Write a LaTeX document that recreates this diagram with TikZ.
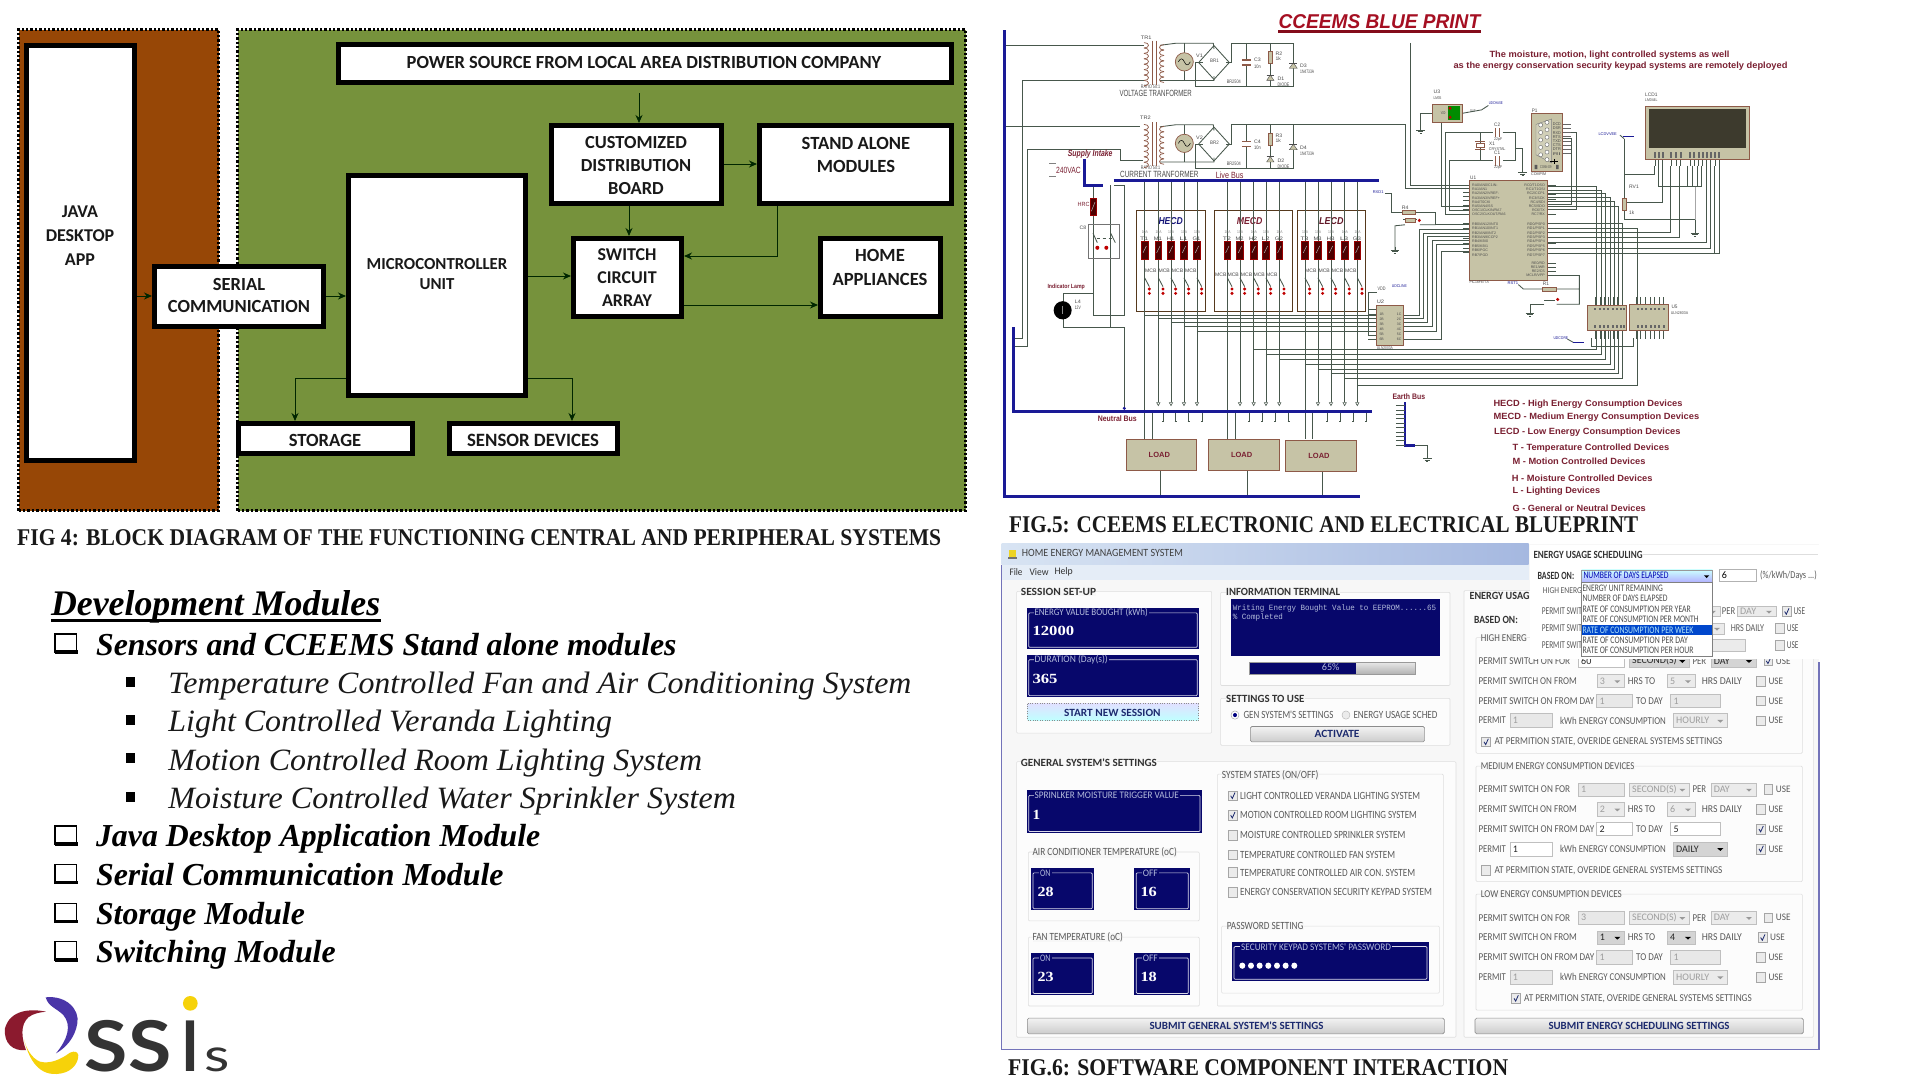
\documentclass[tikz,border=0pt]{standalone}
\usepackage{fontspec}
\usepackage{graphicx}
\usetikzlibrary{arrows.meta,calc}
\setmainfont{Liberation Serif}
\newfontfamily\fCal{Carlito}
\newfontfamily\fAr{Liberation Sans}
\newfontfamily\fMo{Liberation Mono}
\newfontfamily\fSe{Liberation Serif}
\newfontfamily\fLa{Lato}
\definecolor{brownp}{HTML}{974706}
\definecolor{greenp}{HTML}{76923C}
\definecolor{wire}{HTML}{47574C}
\definecolor{busb}{HTML}{1A1A96}
\definecolor{tanc}{HTML}{C6C3A6}
\definecolor{tanb}{HTML}{8E5A48}
\definecolor{cred}{HTML}{7A2032}
\definecolor{ttl}{HTML}{A50F22}
\definecolor{ctxt}{HTML}{4A4A4A}
\definecolor{navyp}{HTML}{07076B}
\definecolor{uibg}{HTML}{F7F7F7}
\definecolor{uigr}{HTML}{5A5A5A}
\definecolor{uigl}{HTML}{DEDEDE}
\definecolor{navt}{HTML}{1C2A6E}
\definecolor{navl}{HTML}{B4BCDC}
\definecolor{logoB}{HTML}{4A35A8}
\definecolor{logoR}{HTML}{8B1A2E}
\definecolor{logoY}{HTML}{F6D20A}
\definecolor{logoD}{HTML}{333333}
\definecolor{barL}{HTML}{D8E4F3}
\definecolor{barR}{HTML}{A5B8E0}
\definecolor{menuB}{HTML}{E5EDF7}
\newcounter{tn}
\def\zs{1}
\newcommand\FC[1]{\fontsize{#1}{#1}\fCal}
\newcommand\FCB[1]{\fontsize{#1}{#1}\fCal\bfseries}
\newcommand\FA[1]{\fontsize{#1}{#1}\fAr}
\newcommand\FAB[1]{\fontsize{#1}{#1}\fAr\bfseries}
\newcommand\FS[1]{\fontsize{#1}{#1}\fSe}
\newcommand\FSB[1]{\fontsize{#1}{#1}\fSe\bfseries}
\newcommand\FM[1]{\fontsize{#1}{#1}\fMo}
% text fitted between x1 and x2 on line y
\newcommand\Tx[6][]{\stepcounter{tn}\node[inner sep=0pt,anchor=west,#1] (t\arabic{tn}) at ({#2},{#4}) {\resizebox{\zs\dimexpr\numexpr(#3)-(#2)\relax pt\relax}{\height}{#5 #6}};}
% text at natural width
\newcommand\Tn[5][]{\stepcounter{tn}\node[inner sep=0pt,anchor=west,#1] (t\arabic{tn}) at ({#2},{#3}) {#4 #5};}
% rectangle node from outer corners
\newcommand\Rct[6][blk]{\node[#1,minimum width={#5-#3-5},minimum height={#6-#4-5}] (#2) at ({(#3+#5)/2},{(#4+#6)/2}) {};}
\newcommand\BL[6]{\node[inner sep=0pt,align=center,font=\fontsize{#5}{#4}\fCal\bfseries\selectfont,text=black!90] (#1) at (#2,#3) {#6};}
\tikzset{
 blk/.style={draw=black,fill=white,line width=5pt,inner sep=0pt},
 panelb/.style={draw=black,fill=brownp,line width=3.4pt,dash pattern=on 2.4pt off 2pt,inner sep=0pt},
 panelg/.style={draw=black,fill=greenp,line width=3.4pt,dash pattern=on 2.4pt off 2pt,inner sep=0pt},
 arr/.style={-{Stealth[length=8pt,width=7pt]},line width=1pt,draw=black!85!green},
 w/.style={draw=wire,line width=.85pt},
 bus/.style={draw=busb,line width=2.8pt},
 chip/.style={fill=tanc,draw=tanb,line width=.9pt},
 dev/.style={draw=tanb!80!black,line width=.7pt},
 pnl/.style={draw=black!55!brown,line width=.7pt},
 zb/.style={shift={(990pt,0pt)},x=0.3333pt,y=-0.338pt},
 zc/.style={shift={(1450pt,0pt)},x=0.3333pt,y=-0.338pt},
 zd/.style={shift={(1000pt,-535pt)},x=0.3333pt,y=-0.3476pt},
 ze/.style={shift={(1450pt,-535pt)},x=0.3333pt,y=-0.3476pt},
 zt/.style={shift={(20pt,-570pt)},x=0.593pt,y=-0.3333pt},
 zl/.style={shift={(0pt,-960pt)},x=0.3333pt,y=-0.3333pt},
 grp/.style={draw=uigl,line width=.6pt,rounded corners=1pt},
 btn/.style={draw=black!45,top color=white!95!black,bottom color=black!20,line width=.6pt,rounded corners=1.5pt},
}
\newcommand\Coil[5]{\foreach \i in {1,...,#3}{\draw[dev,draw=tanb] (#1,{#2+(\i-1)*#4}) .. controls ({#1+#5},{#2+(\i-1)*#4}) and ({#1+#5},{#2+\i*#4}) .. (#1,{#2+\i*#4});}}
\newcommand\Gnd[2]{\draw[w] (#1,#2)--(#1,{#2+10}) ({#1-13},{#2+10})--({#1+13},{#2+10}) ({#1-8},{#2+15})--({#1+8},{#2+15}) ({#1-3},{#2+20})--({#1+3},{#2+20});}
\newcommand\Fuse[2]{\fill[black!70!red,draw=red!60!black,line width=.7pt] ({#1-10},#2) rectangle ({#1+10},{#2+53});\draw[white!70!black,line width=.5pt] ({#1-5},{#2+35})--({#1+5},{#2+15});}
\newcommand\Nv[4]{\fill[navyp] (#1,#2) rectangle (#3,#4);\draw[white!85!navyp,line width=.7pt,rounded corners=1pt] ({#1+6},{#2+14}) rectangle ({#3-5},{#4-5});}
\newcommand\En[1]{\ifnum#1=1\def\ifill{white}\def\icomb{black!17}\def\itxt{black!85}\def\iarr{black}\else\def\ifill{black!9}\def\icomb{black!8}\def\itxt{black!38}\def\iarr{black!40}\fi}
\newcommand\Inp[6]{\En{#6}\draw[black!25,fill=\ifill,line width=.5pt] ({#1},{#2}) rectangle ({#3},{#4});\Tn{#1+8}{(#2+#4)/2}{\FC{10}\color{\itxt}}{#5}}
\newcommand\Cmb[6]{\En{#6}\draw[black!25,fill=\icomb,line width=.5pt] ({#1},{#2}) rectangle ({#3},{#4});\Tn{#1+8}{(#2+#4)/2}{\FC{10}\color{\itxt}}{#5}\fill[\iarr] ({#3-30},{(#2+#4)/2-2})--({#3-12},{(#2+#4)/2-2})--({#3-21},{(#2+#4)/2+6})--cycle;}
\newcommand\CmbE[5]{\En{#5}\draw[black!25,fill=\icomb,line width=.5pt] ({#1},{#2}) rectangle ({#3},{#4});\fill[\iarr] ({#3-30},{(#2+#4)/2-2})--({#3-12},{(#2+#4)/2-2})--({#3-21},{(#2+#4)/2+6})--cycle;}
\newcommand\Ck[3]{\draw[black!35,fill=black!8,line width=.5pt] ({#1-13},{#2-14}) rectangle ({#1+13},{#2+14});\ifnum#3=1 \draw[navt,line width=.8pt] ({#1-6},{#2})--({#1-1},{#2+8})--({#1+7},{#2-9});\fi}
\newcommand\CkU[3]{\Ck{#1}{#2}{#3}\Tx{#1+22}{#1+66}{#2}{\FC{10}\color{uigr}}{USE}}
\begin{document}
\begin{tikzpicture}[x=1pt,y=-1pt]
\fill[white] (0,0) rectangle (1920,1080);
\useasboundingbox (0,0) rectangle (1920,1080);
%================= FIG 4
\Rct[panelb]{pb}{16}{27}{221}{513}
\Rct[panelg]{pg}{235}{27}{968}{513}
\Rct{java}{24}{43}{137}{463}
\Rct{power}{336}{42}{954}{85}
\Rct{custom}{549}{123}{724}{206}
\Rct{stand}{757}{123}{954}{206}
\Rct{micro}{346}{173}{528}{398}
\Rct{swit}{571}{236}{684}{319}
\Rct{home}{818}{236}{943}{319}
\Rct{serial}{152}{264}{326}{329}
\Rct{stor}{236}{421}{415}{456}
\Rct{sens}{447}{421}{620}{456}
\BL{javaT}{80}{236}{24}{18}{JAVA\\DESKTOP\\APP}
\BL{powerT}{644}{62}{20}{18.5}{POWER SOURCE FROM LOCAL AREA DISTRIBUTION COMPANY}
\BL{customT}{636}{166}{23}{18.4}{CUSTOMIZED\\DISTRIBUTION\\BOARD}
\BL{standT}{856}{155}{23}{18.6}{STAND ALONE\\MODULES}
\BL{microT}{437}{274}{20.5}{16.8}{MICROCONTROLLER\\UNIT}
\BL{switT}{627}{278}{23}{18}{SWITCH\\CIRCUIT\\ARRAY}
\BL{homeT}{880}{267}{24}{18.6}{HOME\\APPLIANCES}
\BL{serialT}{239}{295}{22}{18.5}{SERIAL\\COMMUNICATION}
\BL{storT}{325}{440}{20}{18.6}{STORAGE}
\BL{sensT}{533}{440}{20}{18.8}{SENSOR DEVICES}
\coordinate (y93) at (639,93);
\coordinate (x639) at (639,0);
\coordinate (yCS) at (0,164);
\coordinate (x629) at (629,0);
\coordinate (x777) at (777,0);
\coordinate (y256) at (0,256);
\coordinate (y276) at (0,276);
\coordinate (y305) at (0,305);
\coordinate (y296) at (0,296);
\coordinate (y378) at (0,378);
\coordinate (x295) at (295,0);
\coordinate (x572) at (572,0);
\draw[arr,line width=.8pt] (y93) -- (custom.north -| x639);
\draw[arr] (custom.east |- yCS) -- (stand.west |- yCS);
\draw[arr] (custom.south -| x629) -- (swit.north -| x629);
\draw[arr] (stand.south -| x777) -- (x777 |- y256) -- (swit.east |- y256);
\draw[arr] (micro.east |- y276) -- (swit.west |- y276);
\draw[arr] (swit.east |- y305) -- (home.west |- y305);
\draw[arr] (java.east |- y296) -- (serial.west |- y296);
\draw[arr] (serial.east |- y296) -- (micro.west |- y296);
\draw[arr,line width=.8pt] (micro.west |- y378) -- (x295 |- y378) -- (stor.north -| x295);
\draw[arr,line width=.8pt] (micro.east |- y378) -- (x572 |- y378) -- (sens.north -| x572);
\Tx[anchor=base west]{17}{941}{545}{\FSB{24}\color{black!90}}{FIG 4: BLOCK DIAGRAM OF THE FUNCTIONING CENTRAL AND PERIPHERAL SYSTEMS}
\Tx[anchor=base west]{1009}{1638}{532}{\FSB{24}\color{black!90}}{FIG.5: CCEEMS ELECTRONIC AND ELECTRICAL BLUEPRINT}
\Tx[anchor=base west]{1008}{1508}{1075}{\FSB{24}\color{black!90}}{FIG.6: SOFTWARE COMPONENT INTERACTION}
%================= Development modules
\begin{scope}[zt]
\def\zs{0.593}
\Tx[anchor=base west]{52}{607}{135}{\FSB{36}\itshape\color{black}}{Development Modules}
\fill[black] (52,147) rectangle (608,157);
\foreach \n/\a/\b/\c in {Sensors and CCEEMS Stand alone modules/128/1107/252,Java Desktop Application Module/128/877/828,Serial Communication Module/128/815/943,Storage Module/128/480/1060,Switching Module/128/532/1175}{
 \Tx[anchor=base west]{\a}{\b}{\c+3}{\FSB{32}\itshape\color{black}}{\n}
 \draw[black,line width=1.1pt] (59,{\c-60}) rectangle (96,{\c-4});
 \fill[black] (59,{\c-11}) rectangle (97,{\c});
}
\foreach \n/\b/\c in {Temperature Controlled Fan and Air Conditioning System/1503/368,Light Controlled Veranda Lighting/998/483,Motion Controlled Room Lighting System/1150/598,Moisture Controlled Water Sprinkler System/1207/713}{
 \Tx[anchor=base west]{250}{\b}{\c+3}{\FS{31}\itshape\color{black!90}}{\n}
 \fill[black] (178,{\c-48}) rectangle (194,{\c-18});
}
\end{scope}
%================= Logo
\begin{scope}[zl]
\def\zs{0.3333}
\fill[logoB] (137,112) .. controls (200,105) and (240,150) .. (232,190) .. controls (225,235) and (195,265) .. (168,280) .. controls (205,235) and (215,195) .. (190,165) .. controls (170,145) and (145,140) .. (137,112) -- cycle;
\fill[logoR] (138,155) .. controls (90,145) and (30,150) .. (15,205) .. controls (10,250) and (40,275) .. (78,270) .. controls (65,235) and (60,195) .. (85,172) .. controls (100,160) and (120,157) .. (138,155) -- cycle;
\fill[logoY] (72,238) .. controls (85,290) and (110,345) .. (170,342) .. controls (210,340) and (235,315) .. (235,285) .. controls (232,275) and (225,272) .. (210,278) .. controls (180,300) and (150,312) .. (120,305) .. controls (95,295) and (78,265) .. (72,238) -- cycle;
\Tx[anchor=base west]{254}{514}{335}{\fontsize{70}{70}\fLa\bfseries\color{logoD}}{SS}
\Tx[anchor=base west]{544}{598}{335}{\fontsize{70}{70}\fLa\bfseries\color{logoD}}{I}
\Tx[anchor=base west]{612}{688}{335}{\fontsize{46}{46}\fLa\color{logoD}}{s}
\fill[logoY] (571,130) circle[radius=22];
\end{scope}
%================= Circuit, left part
\begin{scope}[zb]
\def\zs{0.3333}
\def\tn{\FA{5}\color{ctxt}}
% wires under everything
\draw[w] (44,134)--(462,134) (70,1000)--(96,1000)--(96,238)--(462,238);
\draw[w] (44,374)--(450,374) (70,1025)--(113,1025)--(113,443)--(392,443)--(392,475)--(458,475);
\foreach \yo/\cc/\rr/\dz/\dd/\br/\vv/\cv/\rv/\tv in {0pt/C3/R2/D3/D1/BR1/V1/10n/1k/TRAFO,81.5pt/C4/R3/D4/D2/BR2/V2/10n/1k/TRAFO}{
\begin{scope}[shift={(0pt,-\yo)}]
\draw[w] (510,134)--(557,128)--(670,128)--(672,145) (510,238)--(672,238)--(672,225);
\draw[w] (583,128)--(583,238);
\fill[tanc,draw=tanb,line width=.7pt] (583,183) circle[radius=27];
\draw[black,line width=.5pt] (565,183) .. controls (572,170) and (578,172) .. (583,183) .. controls (588,194) and (594,196) .. (601,183);
\draw[w] (672,135)--(718,185)--(672,235)--(626,185)--cycle;
\draw[w] (616,185)--(640,185) (616,185)--(616,257)--(910,257)--(910,127)--(725,127)--(725,185)--(708,185);
\draw[w] (770,127)--(770,178) (770,192)--(770,257);
\draw[w,line width=1.6pt,draw=tanb] (756,178)--(784,178) (756,192)--(784,192);
\draw[w] (841,127)--(841,257);
\fill[tanc,draw=tanb,line width=.7pt] (835,152) rectangle (847,188);
\fill[tanc,draw=black!70] (830,238)--(852,238)--(841,222)--cycle;
\draw[black!70] (830,222)--(852,222);
\fill[tanc,draw=black!70] (898,202)--(922,202)--(910,186)--cycle;
\draw[black!70] (898,186)--(922,186);
\Tx{792}{812}{178}{\tn}{\cc}
\Tx{792}{812}{197}{\tn}{\cv}
\Tx{856}{876}{160}{\tn}{\rr}
\Tx{856}{872}{175}{\tn}{\rv}
\Tx{930}{950}{195}{\tn}{\dz}
\Tx{930}{972}{213}{\tn}{1N4733A}
\Tx{862}{882}{233}{\tn}{\dd}
\Tx{862}{898}{251}{\tn}{DIODE}
\Tx{660}{686}{181}{\tn}{\br}
\Tx{618}{638}{165}{\tn}{\vv}
\Tx{710}{752}{242}{\tn}{BR2504}
\Tx{452}{510}{256}{\tn}{RATIO 50:1}
\end{scope}
}
\foreach \ytop/\n/\st in {120/8/16,362/8/16}{
 \draw[tanb,line width=.8pt] (486,\ytop)--(486,{\ytop+130}) (500,\ytop)--(500,{\ytop+130});
 \Coil{462}{\ytop+6}{\n}{\st}{18}
 \Coil{522}{\ytop+12}{7}{\st}{-18}
}
\Tx{452}{484}{111}{\tn}{TR1}
\Tx{450}{482}{349}{\tn}{TR2}
\Tx{388}{605}{276}{\FA{9}\color{ctxt}}{VOLTAGE TRANFORMER}
\Tx{390}{625}{517}{\FA{9}\color{ctxt}}{CURRENT TRANFORMER}
\Tx{677}{760}{520}{\FA{9}\color{cred}}{Live Bus}
\Tx{233}{367}{457}{\FAB{9}\itshape\color{cred}}{Supply Intake}
\Tx{323}{440}{1240}{\FAB{8}\color{cred}}{Neutral Bus}
\Tx{1207}{1305}{1173}{\FAB{8}\color{cred}}{Earth Bus}
\Tx{172}{284}{850}{\FAB{6}\color{cred}}{Indicator Lamp}
\Tx{262}{298}{606}{\FA{6}\color{cred}}{HRC}
\Tx{268}{288}{673}{\tn}{C8}
\Tx{254}{272}{893}{\tn}{L4}
\Tx{254}{272}{911}{\tn}{12V}
\draw[w,draw=black!50] (178,484)--(198,484) (178,522)--(198,522);
\Tx{198}{272}{503}{\FA{9}\color{cred}}{240VAC}
% relay, lamp
\draw[w] (309,548)--(309,932)--(402,932)--(402,548)--(372,548) (362,548)--(362,968)--(220,968)--(220,945) (362,968)--(402,968)--(402,1210);
\draw[w] (220,892)--(220,868)--(309,868);
\fill[black!70!red,draw=red!60!black] (300,585) rectangle (319,638);
\draw[white!70!black,line width=.5pt] (304,625)--(315,598);
\draw[black!55,line width=.7pt] (295,663) rectangle (389,765);
\draw[w] (309,690)--(322,718) (362,690)--(376,718);
\draw[w,dashed] (320,706)--(370,706);
\fill[red!75!black] (322,733) circle[radius=6] (349,733) circle[radius=6];
\fill[black] (218,918) circle[radius=27];
\draw[white!55!black,line width=.5pt] (218,905)--(218,930);
\fill[busb] (403,1208) circle[radius=5];
% panels
\draw[pnl] (438,623) rectangle (646,920) (673,623) rectangle (908,920) (921,623) rectangle (1127,920);
\Tx{505}{578}{653}{\FAB{10}\itshape\color{busb!80!black}}{HECD}
\Tx{740}{817}{653}{\FAB{10}\itshape\color{cred}}{MECD}
\Tx{987}{1060}{653}{\FAB{10}\itshape\color{cred!80!black}}{LECD}
\foreach \x/\lb in {464/T1,505/M1,543/H1,582/L1,621/G1,712/T2,750/M2,791/H2,828/L2,868/G2,945/T3,984/M3,1023/H3,1064/L3,1102/G3}{
 \draw[w] (\x,535)--(\x,1190);
 \Fuse{\x}{713}
 \draw[w] (\x,822)--({\x+14},848);
 \fill[red!75!black] ({\x+14},855) circle[radius=5] ({\x+14},868) circle[radius=5];
 \Tx{\x-14}{\x+10}{706}{\tn}{\lb}
 \Tx{\x-9}{\x+9}{686}{\FA{4}\color{black!50}}{10A}
}
\foreach \x in {464,712,945}{\draw[w] (\x,1190)--(\x,1300);}
\foreach \x in {487,735,968}{\draw[w] (\x,1218)--(\x,1300);}
\foreach \x in {505,543,582,621,750,791,828,868,984,1023,1064,1102}{\draw[w,line width=.6pt] ({\x-5},1191)--({\x+5},1191)--(\x,1200)--cycle;}
\foreach \x in {519,557,596,636,778,817,856,896,1012,1051,1090,1129}{\draw[w] (\x,1218)--(\x,1246);\draw[w] ({\x-3},1246)--({\x+3},1246);}
\foreach \x in {465,505,545,585,945,985,1025,1065}{\Tx{\x}{\x+34}{800}{\tn}{MCB}}
\foreach \x in {675,712,752,790,828}{\Tx{\x}{\x+34}{812}{\tn}{MCB}}
\foreach \x/\y in {464/932,505/942,543/953,582/966,621/980}{\draw[w] (\x,\y)--(1160,\y);}
\foreach \x/\y in {791/1035,828/1049,868/1063,945/1077,984/1092,1023/1106,1064/1120,1102/1140}{\draw[w] (\x,\y)--(1440,\y);}
% load boxes
\foreach \a/\b/\c/\dy/\lx in {408/620/510/0/508,655/869/771/0/755,886/1100/997/2/987}{
 \fill[tanc,draw=tanb,line width=.9pt] (\a,{1300+\dy}) rectangle (\b,{1393+\dy});
 \draw[w] (\c,{1393+\dy})--(\c,1468);
 \Tn[anchor=center]{\lx}{1346+\dy}{\FAB{7.5}\color{cred}}{LOAD}
}
% buses on top
\draw[bus] (44,90)--(44,1468)--(1110,1468);
\draw[bus] (70,968)--(70,1218)--(1145,1218);
\draw[bus] (372,535)--(1168,535);
\draw[bus] (283,470)--(283,548)--(340,548);
\draw[bus] (1245,1190)--(1245,1318)--(1275,1318);
\foreach \i in {0,...,9}{\draw[w] (1218,{1200+\i*13})--(1245,{1200+\i*13});}
\draw[w] (1275,1318)--(1312,1318)--(1312,1346);
\Gnd{1312}{1346}
% U2
\draw[w] (1135,990)--(1135,865)--(1160,865);
\Tx{1162}{1186}{855}{\tn}{VDD}
\Tx{1205}{1250}{846}{\FA{4}\color{busb}}{UDCLINE}
\foreach \y in {915,930,942,953,966,980,992,1005}{\draw[w] (1135,\y)--(1160,\y);}
\foreach \x/\a/\b in {1288/678/932,1300/690/942,1313/700/953,1327/712/966,1340/724/980,1354/745/1005}{\draw[w] (1240,\b)--(\x,\b)--(\x,\a)--(1440,\a);}
\fill[tanc,draw=tanb,line width=.9pt] (1158,905) rectangle (1240,1022);
\foreach \y/\a/\b in {930/1B/1C,945/2B/2C,960/3B/3C,975/4B/4C,990/5B/5C,1005/6B/6C}{\Tn{1168}{\y}{\FA{3.5}\color{ctxt}}{\a}\Tn{1220}{\y}{\FA{3.5}\color{ctxt}}{\b}}
\Tx{1160}{1182}{893}{\tn}{U2}
\Tx{1160}{1208}{1030}{\FA{4}\color{ctxt}}{ULN2003A}
\Tx{1148}{1180}{569}{\FA{4}\color{busb}}{RXD1}
\draw[w] (1185,572)--(1205,572)--(1205,628)--(1237,628) (1277,628)--(1337,628)--(1337,665)--(1440,665);
\fill[tanc,draw=tanb] (1237,622) rectangle (1277,634);
\Tx{1235}{1255}{614}{\tn}{R4}
\draw[w] (1215,740)--(1215,668)--(1245,665) (1290,665)--(1337,665);
\draw[w] (1240,650)--(1280,650);
\fill[tanc,draw=tanb] (1245,646) rectangle (1275,656);
\fill[red!75!black] (1288,652) circle[radius=5];
\Gnd{1215}{730}
% top-left of IC wiring
\draw[w] (1260,127)--(1260,548)--(1440,548);
\draw[w] (725,368)--(1245,368)--(1245,558)--(1440,558);
\draw[w] (1355,362)--(1355,610)--(1440,610) (1365,392)--(1440,392) (1365,392)--(1365,635)--(1440,635) (1378,476)--(1440,476) (1378,476)--(1378,622)--(1440,622);
\draw[w] (1290,335)--(1327,335); \draw[w] (1292,335)--(1292,375); \Gnd{1292}{375}
\fill[tanc,draw=tanb,line width=.9pt] (1327,308) rectangle (1418,362);
\fill[green!55!black] (1375,315) rectangle (1410,355);
\fill[red!75!black] (1380,320) circle[radius=5] (1380,347) circle[radius=5];
\Tx{1330}{1350}{272}{\tn}{U3}
\Tx{1330}{1354}{289}{\FA{4}\color{ctxt}}{LM35}
\Tx{1352}{1366}{335}{\FA{4}\color{ctxt}}{VDD}
\foreach \y in {570,582,594,607,620,660,675,690,705,720,735,748}{\draw[w] (1420,\y)--(1440,\y);}
\end{scope}
%================= Circuit, right part
\begin{scope}[zc]
\def\zs{0.3333}
\def\tn{\FA{5}\color{ctxt}}
\Tx{-515}{90}{65}{\FAB{20}\itshape\color{ttl}}{CCEEMS BLUE PRINT}
\fill[ttl!80!black] (-515,89) rectangle (92,97);
\Tx{118}{838}{162}{\FAB{9}\color{cred}}{The moisture, motion, light controlled systems as well}
\Tx{10}{1012}{197}{\FAB{9}\color{cred}}{as the energy conservation security keypad systems are remotely deployed}
\foreach \n/\a/\b/\c in {HECD - High Energy Consumption Devices/130/697/1197,MECD - Medium Energy Consumption Devices/130/747/1235,LECD - Low Energy Consumption Devices/132/691/1280,T - Temperature Controlled Devices/187/657/1325,M - Motion Controlled Devices/187/586/1365,H - Moisture Controlled Devices/185/607/1415,L - Lighting Devices/187/450/1453,G - General or Neutral Devices/187/587/1503}{
 \Tx{\a}{\b}{\c}{\FAB{9}\color{cred}}{\n}
}
% crystal etc.
\draw[w] (0,392)--(128,392) (158,392)--(195,392)--(195,476)--(158,476) (128,476)--(0,476) (195,440)--(218,440)--(218,505);
\draw[w] (90,392)--(90,476);
\fill[white,draw=tanb] (78,424) rectangle (102,436);
\draw[tanb] (76,418)--(104,418) (76,442)--(104,442);
\draw[tanb,line width=1.2pt] (137,378)--(137,406) (149,378)--(149,406) (137,462)--(137,490) (149,462)--(149,490);
\Gnd{218}{500}
\Tx{132}{150}{368}{\tn}{C2}
\Tx{132}{150}{453}{\tn}{C1}
\Tx{117}{134}{424}{\tn}{X1}
\Tx{116}{166}{440}{\FA{4}\color{ctxt}}{CRYSTAL}
\Tx{132}{156}{412}{\FA{4}\color{ctxt}}{22pF}
\Tx{132}{156}{497}{\FA{4}\color{ctxt}}{22pF}
\Tx{60}{76}{328}{\FA{4}\color{ctxt}}{OUT}
\draw[w] (38,335)--(95,325);
\draw[w] (95,325)--(115,312);
\Tx{116}{158}{304}{\FA{4}\color{busb}}{UDCHASE}
\Tx{245}{262}{327}{\tn}{P1}
% serial connector
\draw[w] (338,392)--(378,392)--(378,620)--(293,620) (338,410)--(365,410)--(365,605)--(293,605);
\fill[tanc,draw=tanb,line width=.9pt] (243,335) rectangle (338,508);
\draw[black!50,fill=tanc!80!white] (258,368)--(305,352)--(305,482)--(258,458)--cycle;
\foreach \y in {370,392,414,436,458}{\draw[black!60,fill=white] (272,\y) circle[radius=6];}
\foreach \y in {362,384,406,428,450,472}{\draw[black!60,fill=white] (291,\y) circle[radius=6];}
\draw[black,line width=.8pt] (300,478)--(325,478) (312,470)--(312,486);
\fill[black!65] (254,488) rectangle (262,500) (318,488) rectangle (326,500);
\Tx{270}{304}{495}{\FA{4}\color{ctxt}}{CONN-D9}
\Tx{243}{288}{514}{\FA{4}\color{ctxt}}{COMPIM}
\foreach \n [count=\i] in {DCD,DSR,RXD,RTS,TXD,CTS,DTR,RI}{
 \Tx{308}{332}{{355+\i*12.5}}{\FA{4}\color{ctxt}}{\n}
 \draw[w,draw=black!60] (338,{355+\i*12.5})--(362,{355+\i*12.5});
}
% IC outputs
\foreach \x/\a/\b in {438/551/1035,453/562/1049,467/573/1063,480/584/1077,493/597/1092,505/610/1106,518/662/1120,563/675/1140}{\draw[w] (293,\a)--(\x,\a)--(\x,\b)--(0,\b);}
\foreach \x/\a in {662/688,688/703,768/718,780/735,794/750,808/750}{\draw[w] (293,\a)--(\x,\a)--(\x,490);}
% main IC
\fill[tanc,draw=tanb,line width=1pt] (58,535) rectangle (293,830);
\foreach \n [count=\i] in {RA0/AN0/C1IN-,RA1/AN1,RA2/AN2/VREF-,RA3/AN3/VREF+,RA4/T0CKI,RA5/AN4/SS,OSC1/CLKIN/RA7,OSC2/CLKOUT/RA6}{\Tn{66}{{535+\i*12.5}}{\FA{3.6}\color{black!70}}{\n}}
\foreach \n [count=\i] in {RB0/AN12/INT0,RB1/AN10/INT1,RB2/AN8/INT2,RB3/AN9/CCP2,RB4/KBI0,RB5/KBI1,RB6/PGC,RB7/PGD}{\Tn{66}{{650+\i*13}}{\FA{3.6}\color{black!70}}{\n}}
\foreach \n [count=\i] in {RC0/T1OSO,RC1/T1OSI,RC2/CCP1,RC3/SCK,RC4/SDI,RC5/SDO,RC6/TX,RC7/RX}{\Tn[anchor=east]{285}{{535+\i*12.5}}{\FA{3.6}\color{black!70}}{\n}}
\foreach \n [count=\i] in {RD0/PSP0,RD1/PSP1,RD2/PSP2,RD3/PSP3,RD4/PSP4,RD5/PSP5,RD6/PSP6,RD7/PSP7}{\Tn[anchor=east]{285}{{650+\i*13}}{\FA{3.6}\color{black!70}}{\n}}
\foreach \n [count=\i] in {RE0/RD,RE1/WR,RE2/CS,MCLR/VPP}{\Tn[anchor=east]{285}{{765+\i*12.5}}{\FA{3.6}\color{black!70}}{\n}}
\foreach \y in {548,562,575,590,605,620,635,660,675,688,703,720,735,750,778,790,802,815}{\draw[w] (293,\y)--(318,\y);}
\Tx{60}{78}{526}{\tn}{U1}
\Tx{58}{116}{836}{\FA{4}\color{ctxt}}{PIC16F877A}
% reset
\Tx{172}{204}{838}{\FA{4}\color{busb}}{RST1}
\draw[w] (205,842)--(220,855)--(278,855) (318,855)--(388,855)--(388,815)--(293,815) (388,855)--(388,900)--(320,900);
\fill[tanc,draw=tanb] (278,849) rectangle (318,862);
\Tx{278}{296}{841}{\tn}{R1}
\draw[w] (283,888)--(315,888) (283,900)--(240,900)--(240,918);
\fill[red!75!black] (323,886) circle[radius=5];
\Gnd{240}{916}
% LCD
\foreach \x/\y in {712/552,727/552,742/552,755/552}{\draw[w] (\x,490)--(\x,\y);}
\draw[w] (625,490)--(625,552)--(755,552);
\draw[w] (612,490)--(612,515)--(522,515);
\draw[w] (638,490)--(638,600)--(530,600);
\draw[w] (522,410)--(522,650)--(735,650)--(735,680);
\draw[w,draw=black!35] (735,552)--(735,650);
\Gnd{735}{680}
\draw[w] (510,400)--(522,410);
\draw[busb,line width=1pt] (520,405)--(552,405);
\Tx{445}{500}{396}{\FA{4}\color{busb}}{LCDVVEE}
\fill[tanc,draw=tanb] (516,585) rectangle (528,622);
\Tx{537}{566}{553}{\tn}{RV1}
\Tx{537}{552}{628}{\tn}{1k}
\fill[tanc,draw=tanb,line width=1pt] (587,316) rectangle (898,472);
\fill[black!75!olive] (598,323) rectangle (887,437);
\foreach \x in {616,626,638,664,678,692,720,733,746,758,770,782,795,808}{\fill[black!60] ({\x-3},450) rectangle ({\x+3},466);\draw[w] (\x,472)--(\x,490);}
\Tx{585}{622}{281}{\tn}{LCD1}
\Tx{585}{622}{297}{\FA{4}\color{ctxt}}{LM044L}
% U5 chips
\foreach \x in {437,450,463,476,490,503,517,558,572,586,600,614,627,640}{\draw[w] (\x,880)--(\x,1003);}
\fill[tanc,draw=tanb,line width=.9pt] (412,903) rectangle (530,978);
\fill[tanc,draw=tanb,line width=.9pt] (538,900) rectangle (655,978);
\foreach \x in {433,446,459,472,485,498,511,520}{\fill[black!60] (\x,910) rectangle ({\x+6},918);\fill[black!60] (\x,962) rectangle ({\x+6},970);}
\foreach \x in {560,573,586,599,612,625,638}{\fill[black!60] (\x,910) rectangle ({\x+6},918);\fill[black!60] (\x,962) rectangle ({\x+6},970);}
\Tx{664}{682}{908}{\tn}{U5}
\Tx{662}{714}{927}{\FA{4}\color{ctxt}}{ULN2803A}
\Tx{310}{354}{1001}{\FA{4}\color{busb}}{UDCORE}
\draw[w] (352,1003)--(370,1013);
\draw[busb,line width=1pt] (370,1013)--(402,1013);
\draw[w] (424,1000)--(424,1025)--(550,1025)--(550,1000);
\end{scope}
%================= UI, left
\begin{scope}[zd]
\def\zs{0.3333}
\def\lb{\FC{11}\color{uigr}}
\def\gt{\FCB{11}\color{black!80}}
\def\nl{\FC{10}\color{navl}}
\def\nv{\FSB{14}\color{white}}
\fill[uibg] (5,25) rectangle (2457,1480);
\shade[left color=barL,right color=barR] (5,25) rectangle (1586,85);
\fill[menuB] (5,85) rectangle (1586,130);
\fill[yellow!70!brown] (28,42) rectangle (48,62);
\fill[black!55] (24,62) rectangle (52,68);
\Tx{65}{548}{52}{\FC{11}\color{black!75}}{HOME ENERGY MANAGEMENT SYSTEM}
\Tx{28}{67}{107}{\FC{10}\color{black!80}}{File}
\Tx{88}{145}{107}{\FC{10}\color{black!80}}{View}
\Tx{163}{218}{107}{\FC{10}\color{black!80}}{Help}
\draw[draw=black!50!blue!55!white,line width=1.4pt] (5,85)--(5,1480)--(2457,1480)--(2457,365);
% groups
\draw[grp,fill=white!60!uibg] (50,162) rectangle (635,570);
\Tx[fill=uibg]{62}{288}{165}{\gt}{SESSION SET-UP}
\Nv{80}{210}{597}{328}
\Tx[fill=navyp,inner xsep=1pt]{100}{440}{223}{\nl}{ENERGY VALUE BOUGHT (kWh)}
\Tx{97}{222}{277}{\nv}{12000}
\Nv{80}{345}{597}{467}
\Tx[fill=navyp,inner xsep=1pt]{100}{320}{360}{\nl}{DURATION (Day(s))}
\Tx{97}{172}{415}{\nv}{365}
\path[draw=black!45,dotted,top color=blue!12!white,bottom color=cyan!25!white] (83,485) rectangle (595,533);
\Tx{192}{481}{511}{\FCB{11}\color{navt}}{START NEW SESSION}
\draw[grp,fill=white!60!uibg] (662,165) rectangle (1350,433);
\Tx[fill=uibg]{678}{1020}{165}{\gt}{INFORMATION TERMINAL}
\fill[navyp] (692,185) rectangle (1320,348);
\Tx{698}{1308}{210}{\FM{8}\color{navl}}{Writing Energy Bought Value to EEPROM......65}
\Tx{698}{848}{238}{\FM{8}\color{navl}}{\% Completed}
\shade[top color=black!10,bottom color=black!30] (748,367) rectangle (1245,400);
\fill[navyp] (748,367) rectangle (1067,400);
\draw[black!40,line width=.4pt] (748,367) rectangle (1245,400);
\Tx{965}{1018}{381}{\FC{10}\color{navl}}{65\%}
\draw[grp,fill=white!60!uibg] (662,470) rectangle (1350,605);
\Tx[fill=uibg]{678}{913}{471}{\gt}{SETTINGS TO USE}
\draw[black!40,fill=white] (705,518) circle[radius=12];
\fill[blue!50!black] (705,518) circle[radius=6];
\Tx{730}{1000}{517}{\lb}{GEN SYSTEM'S SETTINGS}
\draw[black!30,fill=black!8] (1038,518) circle[radius=12];
\Tx{1060}{1312}{517}{\lb}{ENERGY USAGE SCHED}
\path[btn] (751,551) rectangle (1274,595);
\Tx{943}{1078}{572}{\FCB{11}\color{navt}}{ACTIVATE}
\draw[grp,fill=white!60!uibg] (50,652) rectangle (1368,1445);
\Tx[fill=uibg]{62}{470}{655}{\gt}{GENERAL SYSTEM'S SETTINGS}
\Nv{80}{735}{605}{858}
\Tx[fill=navyp,inner xsep=1pt]{100}{533}{750}{\nl}{SPRINLKER MOISTURE TRIGGER VALUE}
\Tx{97}{120}{806}{\nv}{1}
\draw[grp] (85,912) rectangle (598,1110);
\Tx[fill=uibg]{97}{530}{914}{\lb}{AIR CONDITIONER TEMPERATURE (oC)}
\Nv{93}{958}{282}{1080}
\Tx[fill=navyp,inner xsep=1pt]{117}{148}{972}{\nl}{ON}
\Tx{112}{160}{1026}{\nv}{28}
\Nv{403}{958}{570}{1080}
\Tx[fill=navyp,inner xsep=1pt]{425}{470}{972}{\nl}{OFF}
\Tx{421}{470}{1026}{\nv}{16}
\draw[grp] (85,1157) rectangle (598,1355);
\Tx[fill=uibg]{97}{368}{1158}{\lb}{FAN TEMPERATURE (oC)}
\Nv{93}{1203}{282}{1324}
\Tx[fill=navyp,inner xsep=1pt]{117}{148}{1218}{\nl}{ON}
\Tx{112}{160}{1270}{\nv}{23}
\Nv{403}{1203}{570}{1324}
\Tx[fill=navyp,inner xsep=1pt]{425}{470}{1218}{\nl}{OFF}
\Tx{421}{470}{1270}{\nv}{18}
\draw[grp] (652,688) rectangle (1330,1355);
\Tx[fill=uibg]{665}{955}{691}{\lb}{SYSTEM STATES (ON/OFF)}
\foreach \n/\b/\y/\c in {LIGHT CONTROLLED VERANDA LIGHTING SYSTEM/1260/750/1,MOTION CONTROLLED ROOM LIGHTING SYSTEM/1250/806/1,MOISTURE CONTROLLED SPRINKLER SYSTEM/1216/864/0,TEMPERATURE CONTROLLED FAN SYSTEM/1185/920/0,TEMPERATURE CONTROLLED AIR CON. SYSTEM/1245/971/0,ENERGY CONSERVATION SECURITY KEYPAD SYSTEM/1296/1028/0}{
 \Ck{698}{\y}{\c}
 \Tx{720}{\b}{\y}{\lb}{\n}
}
\draw[grp] (665,1125) rectangle (1318,1318);
\Tx[fill=uibg]{680}{910}{1125}{\lb}{PASSWORD SETTING}
\Nv{696}{1170}{1286}{1283}
\Tx[fill=navyp,inner xsep=1pt]{720}{1170}{1185}{\nl}{SECURITY KEYPAD SYSTEMS' PASSWORD}
\foreach \i in {0,...,6}{\fill[white] ({727+\i*26},1239) circle[radius=9];}
\path[btn] (82,1390) rectangle (1333,1435);
\Tx{448}{970}{1413}{\FCB{11}\color{navt}}{SUBMIT GENERAL SYSTEM'S SETTINGS}
\end{scope}
%================= UI, right
\begin{scope}[ze]
\def\zs{0.3333}
\def\lb{\FC{10.5}\color{uigr}}
\def\gt{\FCB{11}\color{black!80}}
\draw[grp,fill=white!60!uibg] (42,160) rectangle (1090,1445);
\Tx[fill=uibg]{58}{238}{175}{\gt}{ENERGY USAG}
\Tx{72}{203}{245}{\gt}{BASED ON:}
\draw[grp] (78,295) rectangle (1057,628);
\Tx[fill=uibg]{92}{230}{296}{\lb}{HIGH ENERG}
\newcommand\RA[5]{\Tx{85}{360}{#1}{\lb}{PERMIT SWITCH ON FOR}\Inp{385}{#1-19}{523}{#1+19}{#2}{#5}\Cmb{538}{#1-19}{718}{#1+19}{SECOND(S)}{#5}\Tx{727}{768}{#1}{\lb}{PER}\Cmb{783}{#1-19}{918}{#1+19}{#3}{#5}\CkU{955}{#1}{#4}}
\newcommand\RB[6]{\Tx{85}{380}{#1}{\lb}{PERMIT SWITCH ON FROM}\Cmb{441}{#1-19}{523}{#1+19}{#2}{#4}\Tx{533}{615}{#1}{\lb}{HRS TO}\Cmb{652}{#1-19}{735}{#1+19}{#3}{#4}\Tx{755}{875}{#1}{\lb}{HRS DAILY}\CkU{#6}{#1}{#5}}
\newcommand\RC[5]{\Tx{85}{432}{#1}{\lb}{PERMIT SWITCH ON FROM DAY}\Inp{440}{#1-19}{547}{#1+19}{#2}{#4}\Tx{558}{638}{#1}{\lb}{TO DAY}\Inp{662}{#1-19}{812}{#1+19}{#3}{#4}\CkU{933}{#1}{#5}}
\newcommand\RD[5]{\Tx{85}{167}{#1}{\lb}{PERMIT}\Inp{180}{#1-20}{307}{#1+20}{#2}{#4}\Tx{330}{647}{#1}{\lb}{kWh ENERGY CONSUMPTION}\Cmb{670}{#1-20}{832}{#1+20}{#3}{#4}\CkU{933}{#1}{#5}}
\RA{362}{60}{DAY}{1}{1}
\RB{420}{3}{5}{0}{0}{933}
\RC{477}{1}{1}{0}{0}
\RD{534}{1}{HOURLY}{0}{0}
\Ck{108}{595}{1}
\Tx{133}{817}{595}{\lb}{AT PERMITION STATE, OVERIDE GENERAL SYSTEMS SETTINGS}
\draw[grp] (78,665) rectangle (1057,997);
\Tx[fill=uibg]{92}{553}{666}{\lb}{MEDIUM ENERGY CONSUMPTION DEVICES}
\RA{732}{1}{DAY}{0}{0}
\RB{789}{2}{6}{0}{0}{933}
\RC{846}{2}{5}{1}{1}
\RD{903}{1}{DAILY}{1}{1}
\Ck{108}{965}{0}
\Tx{133}{817}{965}{\lb}{AT PERMITION STATE, OVERIDE GENERAL SYSTEMS SETTINGS}
\draw[grp] (78,1033) rectangle (1057,1367);
\Tx[fill=uibg]{92}{515}{1034}{\lb}{LOW ENERGY CONSUMPTION DEVICES}
\RA{1101}{3}{DAY}{0}{0}
\RB{1158}{1}{4}{1}{1}{938}
\RC{1215}{1}{1}{0}{0}
\RD{1272}{1}{HOURLY}{0}{0}
\Ck{198}{1333}{1}
\Tx{222}{905}{1333}{\lb}{AT PERMITION STATE, OVERIDE GENERAL SYSTEMS SETTINGS}
\path[btn] (75,1390) rectangle (1060,1435);
\Tx{295}{838}{1413}{\FCB{11}\color{navt}}{SUBMIT ENERGY SCHEDULING SETTINGS}
% popup area
\fill[white] (240,30) rectangle (1107,358);
\draw[uigl] (580,55)--(1105,55);
\Tx{250}{577}{56}{\gt}{ENERGY USAGE SCHEDULING}
\Tx{262}{372}{117}{\gt}{BASED ON:}
\path[draw=black!40,top color=cyan!20!white,bottom color=blue!30!white] (395,100) rectangle (787,135);
\Tx{400}{655}{117}{\FC{10}\color{blue!70!black}}{NUMBER OF DAYS ELAPSED}
\fill[black] (762,116)--(778,116)--(770,124)--cycle;
\draw[black!30,fill=white] (808,97) rectangle (920,133);
\Tn{815}{115}{\FC{10}\color{black}}{6}
\Tx{930}{1100}{117}{\lb}{(\%/kWh/Days ...)}
\Tx{278}{395}{161}{\FC{9}\color{uigr}}{HIGH ENERG}
\foreach \y in {218,268,316}{\Tx{275}{395}{\y}{\lb}{PERMIT SWIT}}
\Tx{815}{855}{218}{\lb}{PER}
\Cmb{862}{205}{978}{235}{DAY}{0}
\CmbE{760}{205}{810}{235}{0}
\Ck{1010}{220}{1}
\Tx{1030}{1065}{218}{\lb}{USE}
\CmbE{770}{253}{822}{285}{0}
\Tx{842}{942}{268}{\lb}{HRS DAILY}
\Ck{990}{268}{0}
\Tx{1010}{1045}{268}{\lb}{USE}
\draw[black!25,fill=black!8] (770,300) rectangle (887,335);
\Ck{990}{317}{0}
\Tx{1010}{1045}{317}{\lb}{USE}
\draw[black!50,fill=white] (395,135) rectangle (787,350);
\fill[blue!65!cyan!80!black] (396,259) rectangle (787,289);
\foreach \n/\b/\y in {ENERGY UNIT REMAINING/638/153,NUMBER OF DAYS ELAPSED/652/183,RATE OF CONSUMPTION PER YEAR/722/213,RATE OF CONSUMPTION PER MONTH/745/243,RATE OF CONSUMPTION PER DAY/713/303,RATE OF CONSUMPTION PER HOUR/730/333}{
 \Tx{397}{\b}{\y}{\FC{10}\color{black!70}}{\n}
}
\Tx{397}{730}{273}{\FC{10}\color{cyan!30!white}}{RATE OF CONSUMPTION PER WEEK}
\end{scope}
\end{tikzpicture}
\end{document}
